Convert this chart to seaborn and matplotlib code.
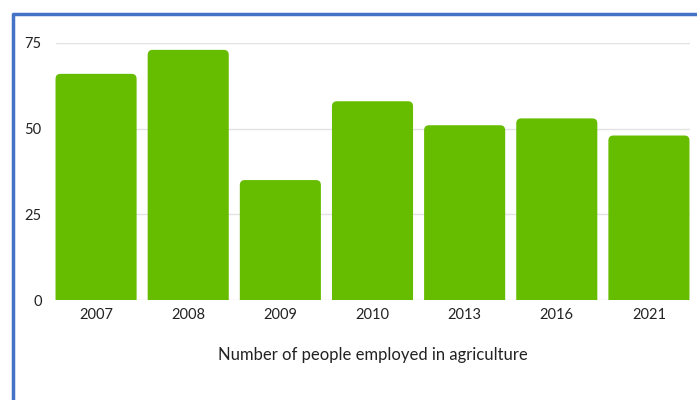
import matplotlib
matplotlib.use("Agg")
import matplotlib.pyplot as plt
import seaborn as sns
import pandas as pd
from matplotlib.patches import FancyBboxPatch
from matplotlib.lines import Line2D

years = ["2007", "2008", "2009", "2010", "2013", "2016", "2021"]
employed = [66, 73, 35, 58, 51, 53, 48]
y_ticks = [0, 25, 50, 75]
x_label = "Number of people employed in agriculture"

sns.set_theme(style="white")
plt.rcParams["font.family"] = ["Lato", "DejaVu Sans"]

fig = plt.figure(figsize=(6.97, 4.0), dpi=100)
ax_h_px = 300 - 43
ax_w_px = 645
ax = fig.add_axes([50/697, 1 - 300/400, ax_w_px/697, ax_h_px/400])

df = pd.DataFrame({"year": years, "value": employed})
sns.barplot(data=df, x="year", y="value", color="#66BD00", saturation=1,
            width=0.88, ax=ax, zorder=3)

ax.set_xlim(-0.5, 6.5)
ax.set_ylim(0, 75)

# round the top corners (bottom corners pushed below the axis and clipped)
px_per_x = ax_w_px / 7.0
px_per_y = ax_h_px / 75.0
r_px = 5.0
r_x = r_px / px_per_x
aspect = (r_px / px_per_y) / r_x
ext = 3.0
for p in list(ax.patches):
    x, y = p.get_x(), p.get_y()
    w, h = p.get_width(), p.get_height()
    fc = p.get_facecolor()
    p.remove()
    fb = FancyBboxPatch((x, y - ext), w, h + ext,
                        boxstyle=f"round,pad=0,rounding_size={r_x}",
                        mutation_aspect=aspect, facecolor=fc,
                        edgecolor="none", zorder=3)
    ax.add_patch(fb)

ax.set_yticks(y_ticks)
ax.set_yticklabels([str(t) for t in y_ticks])
for t in y_ticks:
    ax.axhline(t, xmin=0.01, xmax=0.99, color="#e3e3e3", lw=1, zorder=1)
for s in ax.spines.values():
    s.set_visible(False)
ax.tick_params(axis="both", length=0, labelsize=10.5, colors="#222222")
ax.tick_params(axis="x", pad=6)
ax.tick_params(axis="y", pad=6)
ax.set_xlabel(x_label, fontsize=12, color="#222222", labelpad=18)
ax.set_ylabel("")

# blue frame (left and top)
blue = "#4472C4"
fig.add_artist(Line2D([13/697, 13/697], [0, 1 - 13/400], transform=fig.transFigure,
                      color=blue, lw=2.5, solid_capstyle="butt"))
fig.add_artist(Line2D([12/697, 1], [1 - 13.5/400, 1 - 13.5/400], transform=fig.transFigure,
                      color=blue, lw=2.5, solid_capstyle="butt"))

fig.savefig("out.png", dpi=100)
